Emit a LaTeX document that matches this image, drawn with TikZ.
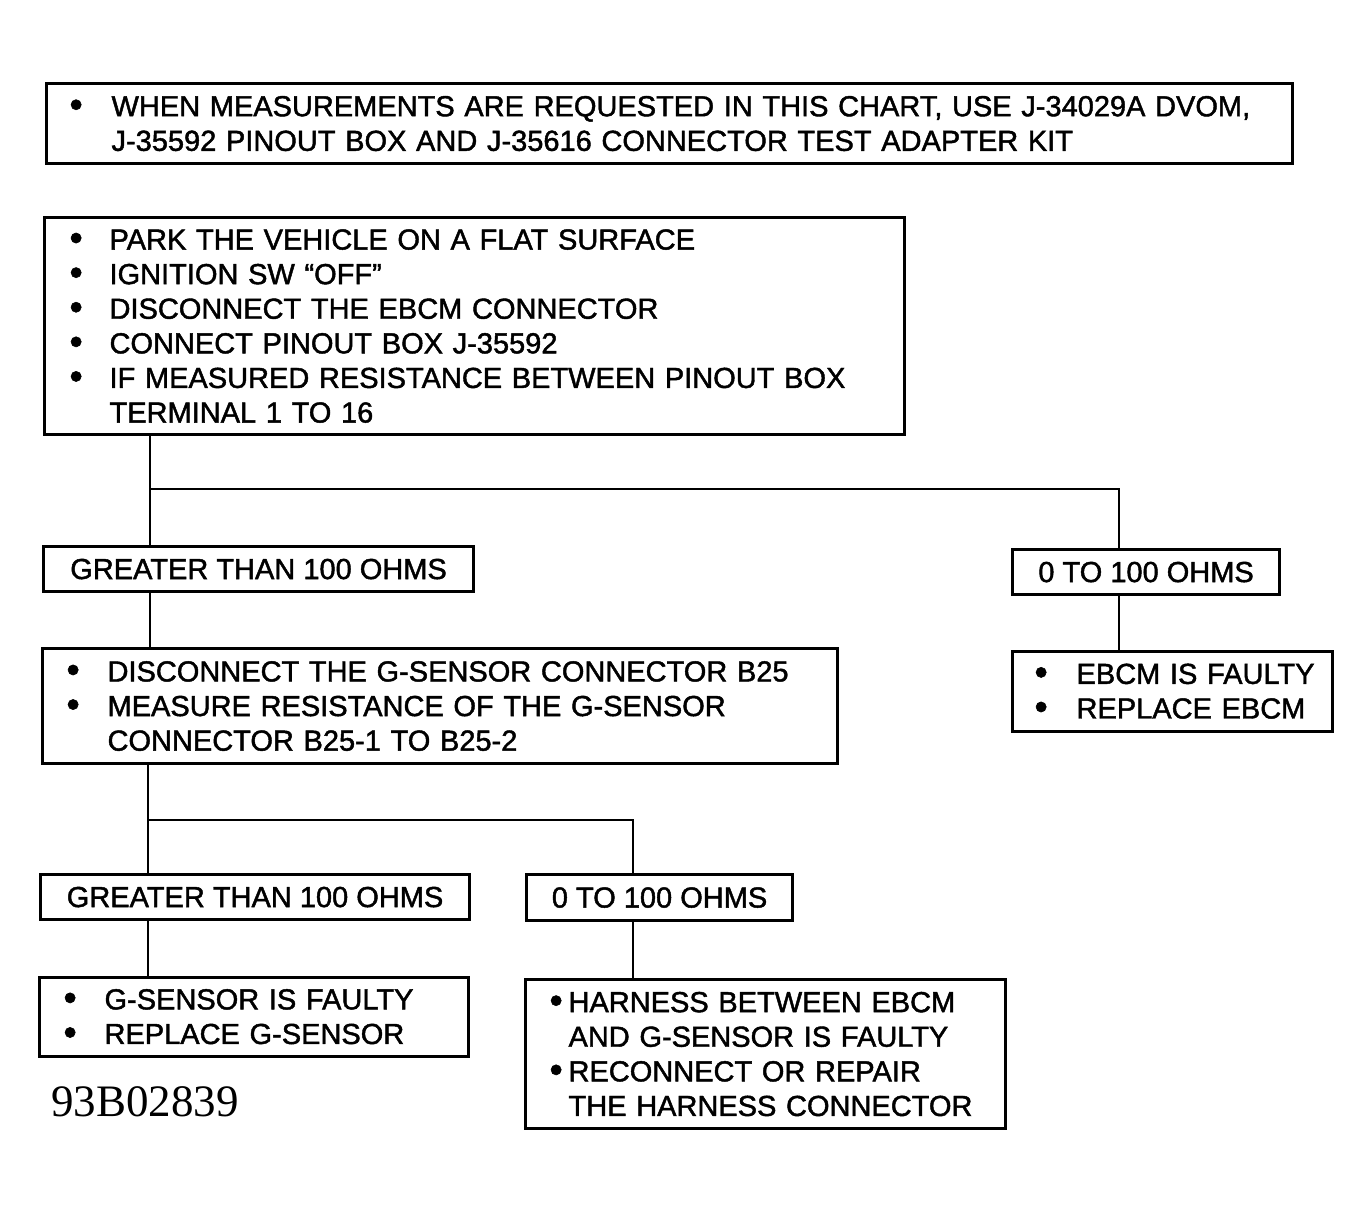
\documentclass[tikz,border=0pt]{standalone}
\usepackage{fontspec}
\setmainfont[FakeBold=1.5]{Liberation Sans}
\newfontfamily\codefont{Liberation Serif}
\newcommand{\li}[2]{\makebox[#1][l]{\raisebox{-1pt}{\scalebox{1.3}{\textbullet}}}\mbox{#2}}
\newcommand{\ct}[2]{\hspace*{#1}\mbox{#2}}
\tikzset{
  box/.style={draw, line width=3.1pt, rectangle, anchor=north west, inner ysep=0pt,
    align=left, font=\fontsize{29}{34.6}\selectfont},
  lbl/.style={draw, line width=3.1pt, rectangle, anchor=north west, inner sep=0pt,
    align=center, font=\fontsize{29}{34.6}\selectfont},
  conn/.style={line width=2.9pt}
}
\begin{document}
\begin{tikzpicture}[x=1pt,y=-1pt]
\useasboundingbox (0,0) rectangle (1370,1205);
% top note
\node[box, minimum width=1246pt, minimum height=80pt, inner xsep=23pt, text width=1200pt] (note) at (45,82)
 {\li{42pt}{WHEN MEASUREMENTS ARE REQUESTED IN THIS CHART, USE J-34029A DVOM,}\\
  \ct{42pt}{J-35592 PINOUT BOX AND J-35616 CONNECTOR TEST ADAPTER KIT}};
% step 1
\node[box, minimum width=860pt, minimum height=217pt, inner xsep=25pt, text width=810pt] (s1) at (43,216)
 {\li{40pt}{PARK THE VEHICLE ON A FLAT SURFACE}\\
  \li{40pt}{IGNITION SW “OFF”}\\
  \li{40pt}{DISCONNECT THE EBCM CONNECTOR}\\
  \li{40pt}{CONNECT PINOUT BOX J-35592}\\
  \li{40pt}{IF MEASURED RESISTANCE BETWEEN PINOUT BOX}\\
  \ct{40pt}{TERMINAL 1 TO 16}};
% results 1
\node[lbl, minimum width=430pt, minimum height=45pt] (g1) at (42,545) {GREATER THAN 100 OHMS};
\node[lbl, minimum width=267pt, minimum height=45pt] (r1) at (1011,548) {0 TO 100 OHMS};
% step 2
\node[box, minimum width=795pt, minimum height=115pt, inner xsep=24pt, text width=747pt] (s2) at (41,647)
 {\li{41pt}{DISCONNECT THE G-SENSOR CONNECTOR B25}\\
  \li{41pt}{MEASURE RESISTANCE OF THE G-SENSOR}\\
  \ct{41pt}{CONNECTOR B25-1 TO B25-2}};
\node[box, minimum width=320pt, minimum height=80pt, inner xsep=22pt, text width=276pt] (e1) at (1011,650)
 {\li{42pt}{EBCM IS FAULTY}\\
  \li{42pt}{REPLACE EBCM}};
% results 2
\node[lbl, minimum width=429pt, minimum height=45pt] (g2) at (39,873) {GREATER THAN 100 OHMS};
\node[lbl, minimum width=266pt, minimum height=46pt] (r2) at (525,873) {0 TO 100 OHMS};
% final boxes
\node[box, minimum width=429pt, minimum height=79pt, inner xsep=24pt, text width=381pt] (gs) at (38,976)
 {\li{41pt}{G-SENSOR IS FAULTY}\\
  \li{41pt}{REPLACE G-SENSOR}};
\node[box, minimum width=480pt, minimum height=149pt, inner xsep=24pt, text width=432pt] (hn) at (524,978)
 {\li{19pt}{HARNESS BETWEEN EBCM}\\
  \ct{19pt}{AND G-SENSOR IS FAULTY}\\
  \li{19pt}{RECONNECT OR REPAIR}\\
  \ct{19pt}{THE HARNESS CONNECTOR}};
% code
\node[anchor=base west, inner sep=0pt, font=\codefont\fontsize{45}{50}\selectfont] (code) at (51,1116) {93B02839};
% connectors
\coordinate (j1) at (150,489);
\coordinate (k1) at (1119,489);
\coordinate (j2) at (148,820);
\coordinate (k2) at (633,820);
\draw[conn] (s1.south -| j1) -- (g1.north -| j1);
\draw[conn] (j1) -- (k1) -- (r1.north -| k1);
\draw[conn] (g1.south -| j1) -- (s2.north -| j1);
\draw[conn] (r1.south -| k1) -- (e1.north -| k1);
\draw[conn] (s2.south -| j2) -- (g2.north -| j2);
\draw[conn] (j2) -- (k2) -- (r2.north -| k2);
\draw[conn] (g2.south -| j2) -- (gs.north -| j2);
\draw[conn] (r2.south -| k2) -- (hn.north -| k2);
\end{tikzpicture}
\end{document}
